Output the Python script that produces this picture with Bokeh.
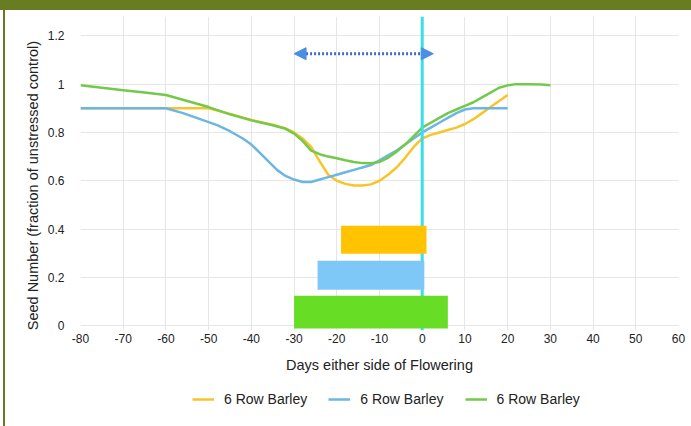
from bokeh.plotting import figure
from bokeh.models import (Range1d, FixedTicker, NumeralTickFormatter, Legend, LegendItem,
                          Arrow, NormalHead, Div)
from bokeh.layouts import column, row
from bokeh.embed import file_html
from bokeh.resources import INLINE

# ---------------- data ----------------
x_ticks = [-80, -70, -60, -50, -40, -30, -20, -10, 0, 10, 20, 30, 40, 50, 60]
y_ticks = [0, 0.2, 0.4, 0.6, 0.8, 1, 1.2]

yellow_x = [-80, -70, -60, -55, -50, -45, -40, -35, -32, -30, -28, -26, -24, -22, -20, -18, -16,
            -14, -12, -10, -8, -6, -4, -2, 0, 2, 4, 6, 8, 10, 12, 14, 16, 18, 20]
yellow_y = [0.90, 0.90, 0.90, 0.90, 0.90, 0.877, 0.852, 0.832, 0.817, 0.80, 0.775, 0.74, 0.68,
            0.625, 0.60, 0.587, 0.58, 0.58, 0.585, 0.60, 0.625, 0.655, 0.695, 0.74, 0.775,
            0.79, 0.80, 0.81, 0.82, 0.835, 0.855, 0.88, 0.905, 0.93, 0.955]

blue_x = [-80, -70, -60, -56, -52, -48, -45, -42, -40, -38, -36, -34, -32, -30, -28, -26, -24,
          -22, -20, -18, -16, -14, -12, -10, -8, -6, -4, -2, 0, 2, 4, 6, 8, 10, 12, 15, 20]
blue_y = [0.90, 0.90, 0.90, 0.88, 0.855, 0.83, 0.805, 0.775, 0.75, 0.715, 0.68, 0.645, 0.62,
          0.605, 0.595, 0.595, 0.605, 0.615, 0.625, 0.635, 0.645, 0.655, 0.665, 0.685, 0.705,
          0.725, 0.75, 0.775, 0.80, 0.82, 0.84, 0.86, 0.88, 0.895, 0.90, 0.90, 0.90]

green_x = [-80, -75, -70, -65, -60, -55, -50, -45, -40, -35, -32, -30, -28, -26, -24, -22, -20,
           -18, -16, -14, -12, -10, -8, -6, -4, -2, 0, 2, 4, 6, 8, 10, 12, 14, 16, 18, 20, 22,
           25, 28, 30]
green_y = [0.995, 0.985, 0.975, 0.965, 0.955, 0.93, 0.905, 0.875, 0.85, 0.83, 0.815, 0.795,
           0.765, 0.725, 0.71, 0.70, 0.693, 0.685, 0.678, 0.673, 0.672, 0.678, 0.695, 0.72,
           0.75, 0.785, 0.82, 0.84, 0.86, 0.88, 0.895, 0.91, 0.925, 0.945, 0.965, 0.985,
           0.995, 1.0, 1.0, 0.998, 0.995]

series_labels = ["6 Row Barley", "6 Row Barley", "6 Row Barley"]

bar_left = [-19, -24.5, -30]
bar_right = [1, 0.5, 6]
bar_center = [0.356, 0.209, 0.056]
bar_height = [0.116, 0.12, 0.136]

flowering_x = [0, 0]
flowering_y = [-0.02, 1.28]

arrow_x = [-30, 2.6]
arrow_y = 1.126

# ---------------- styles ----------------
YELLOW_LINE = "#F7C52A"
BLUE_LINE = "#6DB6E2"
GREEN_LINE = "#72C94A"
LINE_COLORS = [YELLOW_LINE, BLUE_LINE, GREEN_LINE]
BAR_COLORS = ["#FFC300", "#7DC8F7", "#68DD25"]
OLIVE = "#687C22"
FONT = "Liberation Sans"
NBSP = "\u00a0"

p = figure(width=686, height=370, output_backend="svg", toolbar_location=None,
           x_range=Range1d(-80, 60), y_range=Range1d(-0.02, 1.28),
           min_border_left=75, min_border_right=13, min_border_top=6, min_border_bottom=50,
           margin=0)
p.outline_line_color = None
p.background_fill_color = "white"
p.border_fill_color = "white"

for ax in (p.xaxis[0], p.yaxis[0]):
    ax.axis_line_color = None
    ax.major_tick_line_color = None
    ax.minor_tick_line_color = None
    ax.major_tick_out = 0
    ax.major_tick_in = 0
    ax.major_label_text_font = FONT
    ax.major_label_text_font_size = "12px"
    ax.major_label_text_color = "#222222"
    ax.axis_label_text_font = FONT
    ax.axis_label_text_font_style = "normal"
    ax.axis_label_text_font_size = "14.5px"
    ax.axis_label_text_color = "#222222"

p.xaxis.ticker = FixedTicker(ticks=x_ticks)
p.yaxis.ticker = FixedTicker(ticks=y_ticks)
p.xaxis.formatter = NumeralTickFormatter(format="0")
p.yaxis.formatter = NumeralTickFormatter(format="0.[0]")
p.xaxis.major_label_standoff = 3
p.yaxis.major_label_standoff = 16
p.xaxis.axis_label = "Days either side of Flowering"
p.yaxis.axis_label = "Seed Number (fraction of unstressed control)" + NBSP * 6
p.xaxis.axis_label_standoff = 11
p.yaxis.axis_label_standoff = 4

p.xgrid.grid_line_color = "#E6E6E6"
p.ygrid.grid_line_color = "#E6E6E6"
p.xgrid.grid_line_width = 1
p.ygrid.grid_line_width = 1

p.line(yellow_x, yellow_y, line_color=YELLOW_LINE, line_width=2.5)
p.line(blue_x, blue_y, line_color=BLUE_LINE, line_width=2.5)
p.line(green_x, green_y, line_color=GREEN_LINE, line_width=2.5)

p.line(flowering_x, flowering_y, line_color="#3ADDEA", line_width=3)

p.hbar(y=bar_center, left=bar_left, right=bar_right, height=bar_height,
       fill_color=BAR_COLORS, line_color=None)

p.add_layout(Arrow(start=NormalHead(size=12, fill_color="#4A8FE3", line_color="#4A8FE3"),
                   end=NormalHead(size=12, fill_color="#4A8FE3", line_color="#4A8FE3"),
                   x_start=arrow_x[0], x_end=arrow_x[1], y_start=arrow_y, y_end=arrow_y,
                   line_color="#3F6ACB", line_width=3, line_dash="2 2"))

# ---------------- legend (own small figure below the chart) ----------------
# the series are re-drawn here far outside this figure's ranges: only their legend shows
lf = figure(width=686, height=46, output_backend="svg", toolbar_location=None,
            x_range=Range1d(1000, 1001), y_range=Range1d(1000, 1001),
            x_axis_type=None, y_axis_type=None, min_border=0, margin=0)
lf.outline_line_color = None
lf.grid.visible = False
leg_items = []
for lab, col, xs, ys in zip(series_labels, LINE_COLORS,
                            [yellow_x, blue_x, green_x], [yellow_y, blue_y, green_y]):
    r = lf.line(x=xs, y=ys, line_color=col, line_width=2.5)
    leg_items.append(LegendItem(label=lab, renderers=[r]))
legend = Legend(items=leg_items, orientation="horizontal", location=(112, 17),
                border_line_color=None, background_fill_alpha=0,
                label_text_font=FONT, label_text_font_size="14px", label_text_color="#222222",
                glyph_width=22, label_standoff=10, spacing=21, padding=4, margin=0)
lf.add_layout(legend, "center")

band = Div(width=691, height=10, margin=0, styles={"background-color": OLIVE})
spacer = Div(width=3, height=416, margin=0)
vline = Div(width=2, height=416, margin=0, styles={"background-color": OLIVE})

root = column(band,
              row(spacer, vline, column(p, lf, spacing=0, margin=0), spacing=0, margin=0),
              spacing=0, margin=0,
              styles={"position": "absolute", "left": "0px", "top": "0px"})

open("out.html", "w").write(file_html(root, INLINE))
